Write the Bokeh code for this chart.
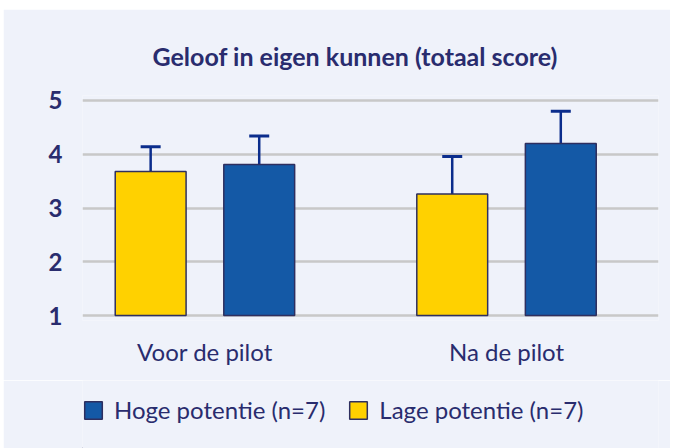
import numpy as np
from bokeh.plotting import figure
from bokeh.layouts import column
from bokeh.models import (ColumnDataSource, Range1d, FixedTicker, Legend, LegendItem,
                          Whisker, TeeHead, Title)
from bokeh.embed import file_html
from bokeh.resources import INLINE

# ---- data ----
groups = ["Voor de pilot", "Na de pilot"]
series = ["Hoge potentie (n=7)", "Lage potentie (n=7)"]
hoge = [3.81, 4.20]
hoge_err = [0.53, 0.60]
lage = [3.68, 3.26]
lage_err = [0.46, 0.70]
y_ticks = [1, 2, 3, 4, 5]

BG = "#EFF2FA"
NAVY = "#292C6E"
YELLOW = "#FFD100"
BLUE = "#1459A6"
ERR = "#0B2D8C"
EDGE = "#2E2F5F"
GRID = "#C8C8C8"
FONT = "Lato"

xpos = np.arange(len(groups), dtype=float)
off = 0.18
bw = 0.235

src_l = ColumnDataSource(dict(x=xpos - off, top=lage, up=np.array(lage) + np.array(lage_err)))
src_h = ColumnDataSource(dict(x=xpos + off, top=hoge, up=np.array(hoge) + np.array(hoge_err)))

p = figure(frame_width=576, frame_height=225, output_backend="svg", toolbar_location=None,
           x_range=Range1d(-0.406, 1.504), y_range=Range1d(0.907, 5.093),
           min_border_left=79, min_border_right=12, min_border_top=86, min_border_bottom=60)
p.margin = (9, 3, 0, 3)

p.background_fill_color = BG
p.border_fill_color = BG
p.outline_line_color = None

r_l = p.vbar(x="x", top="top", bottom=y_ticks[0], width=bw, source=src_l,
             fill_color=YELLOW, line_color=EDGE, line_width=1.5)
r_h = p.vbar(x="x", top="top", bottom=y_ticks[0], width=bw, source=src_h,
             fill_color=BLUE, line_color=EDGE, line_width=1.5)

for src in (src_l, src_h):
    w = Whisker(base="x", upper="up", lower="top", source=src,
                line_color=ERR, line_width=2.5,
                upper_head=TeeHead(size=20, line_color=ERR, line_width=3),
                lower_head=None)
    p.add_layout(w)

# axes
p.xaxis.ticker = FixedTicker(ticks=list(xpos))
p.xaxis.major_label_overrides = {0: groups[0], 1: groups[1]}
p.xaxis.axis_line_color = None
p.xaxis.major_tick_line_color = None
p.xaxis.minor_tick_line_color = None
p.xaxis.major_label_text_font = FONT
p.xaxis.major_label_text_font_size = "24px"
p.xaxis.major_label_text_color = NAVY
p.xaxis.major_label_standoff = 10

p.yaxis.ticker = FixedTicker(ticks=y_ticks)
p.yaxis.axis_line_color = None
p.yaxis.major_tick_line_color = None
p.yaxis.minor_tick_line_color = None
p.yaxis.major_label_text_font = FONT
p.yaxis.major_label_text_font_size = "24px"
p.yaxis.major_label_text_font_style = "bold"
p.yaxis.major_label_text_color = NAVY
p.yaxis.major_label_standoff = 14

p.xgrid.grid_line_color = None
p.ygrid.ticker = FixedTicker(ticks=y_ticks)
p.ygrid.grid_line_color = GRID
p.ygrid.grid_line_width = 2.5

p.title = Title(text="Geloof in eigen kunnen (totaal score)", align="left", offset=70,
                text_font=FONT, text_font_size="25px", text_font_style="bold",
                text_color=NAVY, standoff=50)

# ---- legend strip (separate figure so the legend is not clipped) ----
leg = figure(frame_width=576, frame_height=68, output_backend="svg", toolbar_location=None,
             x_range=Range1d(0, 1), y_range=Range1d(0, 1),
             x_axis_location=None, y_axis_location=None,
             min_border_left=79, min_border_right=12, min_border_top=0, min_border_bottom=0)
leg.margin = (0, 3, 0, 3)
leg.background_fill_color = BG
leg.border_fill_color = BG
leg.outline_line_color = None
leg.grid.visible = False

# hidden placeholder renderers (outside the visible range) that carry the legend styles
ph = ColumnDataSource(dict(x=[-10.0], top=[-10.0]))
lr_h = leg.vbar(x="x", top="top", width=0.1, source=ph,
                fill_color=BLUE, line_color=EDGE, line_width=1.5)
lr_l = leg.vbar(x="x", top="top", width=0.1, source=ph,
                fill_color=YELLOW, line_color=EDGE, line_width=1.5)

legend = Legend(items=[LegendItem(label=series[0], renderers=[lr_h]),
                       LegendItem(label=series[1], renderers=[lr_l])],
                orientation="horizontal", location=(0, 24),
                background_fill_alpha=0, border_line_color=None,
                label_text_font=FONT, label_text_font_size="24px", label_text_color=NAVY,
                glyph_width=22, glyph_height=22, label_standoff=10, spacing=22,
                margin=0, padding=0)
leg.add_layout(legend, "center")

layout = column(p, leg, spacing=0)
open("out.html", "w").write(file_html(layout, INLINE))
